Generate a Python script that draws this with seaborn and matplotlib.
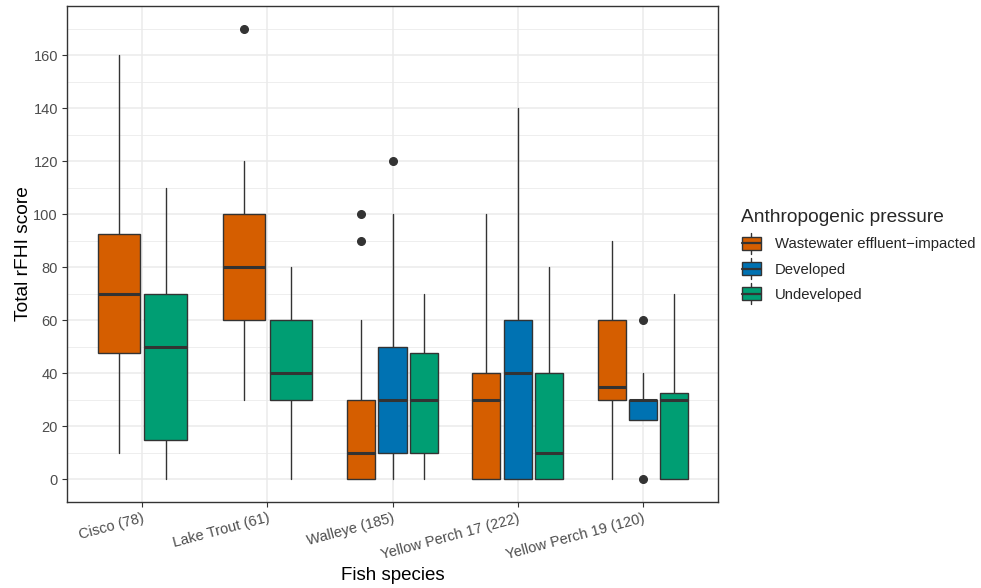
import matplotlib
matplotlib.use("Agg")
import matplotlib.pyplot as plt
import seaborn as sns
import numpy as np
from matplotlib.legend_handler import HandlerBase
from matplotlib.patches import Rectangle
from matplotlib.lines import Line2D
from matplotlib.ticker import MultipleLocator

# ---------------- data ----------------
species = ["Cisco (78)", "Lake Trout (61)", "Walleye (185)",
           "Yellow Perch 17 (222)", "Yellow Perch 19 (120)"]
pressures = ["Wastewater effluent\u2212impacted", "Developed", "Undeveloped"]
colors = ["#D55E00", "#0072B2", "#009E73"]

box_species  = [0, 0, 1, 1, 2, 2, 2, 3, 3, 3, 4, 4, 4]
box_pressure = [0, 2, 0, 2, 0, 1, 2, 0, 1, 2, 0, 1, 2]
whislo = [10, 0, 30, 0, 0, 0, 0, 0, 0, 0, 0, 22.5, 0]
q1     = [47.5, 15, 60, 30, 0, 10, 10, 0, 0, 0, 30, 22.5, 0]
med    = [70, 50, 80, 40, 10, 30, 30, 30, 40, 10, 35, 30, 30]
q3     = [92.5, 70, 100, 60, 30, 50, 47.5, 40, 60, 40, 60, 30, 32.5]
whishi = [160, 110, 120, 80, 60, 100, 70, 100, 140, 80, 90, 40, 70]
fliers = [[], [], [170], [], [90, 100], [120], [], [], [], [], [], [0, 60], []]

# ---------------- style ----------------
sns.set_theme(style="whitegrid")
plt.rcParams["font.family"] = ["Liberation Sans", "DejaVu Sans"]
edge = "#333333"

fig = plt.figure(figsize=(9.81, 5.88), dpi=100)
ax = fig.add_axes([67 / 981, 86 / 588, 651 / 981, 496 / 588])

# dodge2-like positions
stats, positions, widths = [], [], []
dodge_total = 0.75
for i in range(len(box_species)):
    s = box_species[i]
    members = [j for j in range(len(box_species)) if box_species[j] == s]
    n = len(members)
    k = members.index(i)
    w = dodge_total / n
    pos = s - dodge_total / 2 + w * (k + 0.5)
    positions.append(pos)
    widths.append(w * 0.9)
    stats.append(dict(whislo=whislo[i], q1=q1[i], med=med[i], q3=q3[i],
                      whishi=whishi[i], fliers=fliers[i], label=""))

bp = ax.bxp(stats, positions=positions, widths=widths, patch_artist=True,
            showcaps=False, manage_ticks=False,
            boxprops=dict(edgecolor=edge, linewidth=1.0),
            whiskerprops=dict(color=edge, linewidth=1.0),
            medianprops=dict(color=edge, linewidth=2.2, solid_capstyle="butt"),
            flierprops=dict(marker="o", markerfacecolor=edge, markeredgecolor=edge,
                            markersize=5.5, linestyle="none"))
for patch, p in zip(bp["boxes"], box_pressure):
    patch.set_facecolor(colors[p])
    patch.set_zorder(2)
for w in bp["whiskers"]:
    w.set_zorder(1.5)

ax.set_xlim(-0.6, len(species) - 1 + 0.6)
ax.set_ylim(-8.5, 178.5)
ax.set_xticks(range(len(species)))
ax.set_xticklabels(species, rotation=15, ha="right", rotation_mode="anchor",
                   fontsize=10.5, color="#4D4D4D")
ax.yaxis.set_major_locator(MultipleLocator(20))
ax.yaxis.set_minor_locator(MultipleLocator(10))
ax.tick_params(axis="y", labelsize=10.5, labelcolor="#4D4D4D")
ax.tick_params(axis="both", which="major", length=3.5, width=0.8, color=edge,
               direction="out", pad=3)
ax.tick_params(axis="both", which="minor", length=0)
ax.tick_params(axis="x", bottom=True)
ax.tick_params(axis="y", left=True)
ax.set_facecolor("white")
ax.grid(True, which="major", color="#EBEBEB", linewidth=1.1)
ax.grid(True, which="minor", axis="y", color="#EBEBEB", linewidth=0.6)
ax.set_axisbelow(True)
for sp in ax.spines.values():
    sp.set_color(edge)
    sp.set_linewidth(1.0)
    sp.set_visible(True)

ax.set_xlabel("Fish species", fontsize=13.5, color="black", labelpad=4)
ax.set_ylabel("Total rFHI score", fontsize=13.8, color="black", labelpad=1)


class BoxKeyHandler(HandlerBase):
    def __init__(self, color):
        super().__init__()
        self.color = color

    def create_artists(self, legend, orig_handle, xdescent, ydescent,
                       width, height, fontsize, trans):
        cx = width / 2 - xdescent
        cy = height / 2 - ydescent
        bw, bh = width * 0.95, height * 0.85
        r = Rectangle((cx - bw / 2, cy - bh / 2), bw, bh, facecolor=self.color,
                      edgecolor=edge, linewidth=1.0, transform=trans)
        m = Line2D([cx - bw / 2, cx + bw / 2], [cy, cy], color=edge,
                   linewidth=1.6, transform=trans)
        wu = Line2D([cx, cx], [cy + bh / 2, cy + height * 0.68], color=edge,
                    linewidth=1.0, transform=trans)
        wd = Line2D([cx, cx], [cy - bh / 2, cy - height * 0.68], color=edge,
                    linewidth=1.0, transform=trans)
        return [wu, wd, r, m]


handles = [Rectangle((0, 0), 1, 1) for _ in pressures]
hmap = {h: BoxKeyHandler(c) for h, c in zip(handles, colors)}
leg = fig.legend(handles, pressures, handler_map=hmap,
                 title="Anthropogenic pressure", loc="upper left",
                 bbox_to_anchor=(728 / 981, 1 - 196 / 588), frameon=False,
                 fontsize=10.7, title_fontsize=13.8, handlelength=1.35,
                 handleheight=1.25, handletextpad=0.9, labelspacing=0.62,
                 alignment="left")

fig.savefig("out.png", dpi=100, facecolor="white")
